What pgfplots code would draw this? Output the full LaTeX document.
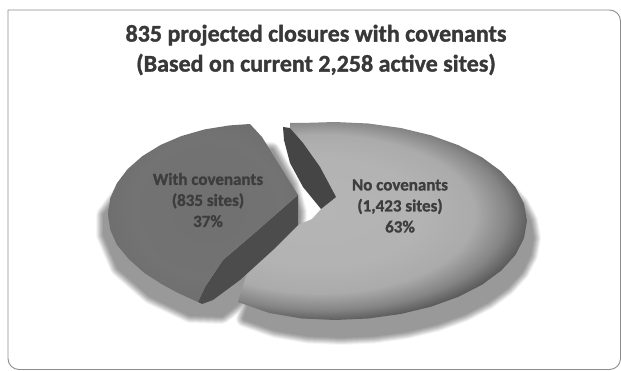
\documentclass[border=0pt]{standalone}
\usepackage{pgfplots}
\usepackage{pgfplotstable}
\usepackage{fontspec}
\setmainfont[BoldFeatures={FakeBold=1.3}]{Carlito}
\pgfplotsset{compat=1.18}
\usetikzlibrary{shadings}

\definecolor{frameline}{gray}{0.55}
\definecolor{titleink}{gray}{0.22}
\definecolor{labelink}{gray}{0.24}
\definecolor{cutface}{gray}{0.30}
\definecolor{sliver}{gray}{0.27}

% Top surface of each slice: the shading square is twice the path's box,
% so a stop at 25bp falls on the rim of the ellipse
\pgfdeclareradialshading{lightpie}{\pgfpoint{-3bp}{3bp}}{%
  color(0bp)=(black!29); color(14bp)=(black!30); color(20bp)=(black!33);
  color(24bp)=(black!48); color(27bp)=(black!66); color(29bp)=(black!86);
  color(50bp)=(black!90)}
\pgfdeclareradialshading{darkpie}{\pgfpoint{2bp}{2bp}}{%
  color(0bp)=(black!56); color(20bp)=(black!55); color(28bp)=(black!57);
  color(34bp)=(black!64); color(50bp)=(black!70)}

% Outline of the 1,423-site slice
\pgfplotstableread{
x y
290.0 123.0
301.7 123.0
335.0 122.0
368.3 123.5
400.7 128.0
431.0 135.3
458.4 145.2
482.0 157.3
501.3 171.5
515.4 187.1
524.0 203.8
527.0 221.0
524.0 238.2
515.4 254.9
501.3 270.5
482.0 284.7
458.4 296.8
431.0 306.7
400.7 314.0
368.3 318.5
335.0 320.0
301.7 318.5
269.3 313.0
238.0 302.0
247.0 273.0
298.0 225.0
312.0 219.0
321.0 209.0
336.0 197.0
320.0 167.0
303.0 143.0
290.0 128.0
}\lightslice

% The same outline with a zero-area spur to the far rim of the full ellipse,
% which centres the shading on the ellipse
\pgfplotstableread{
x y
290.0 123.0
301.7 123.0
335.0 122.0
368.3 123.5
400.7 128.0
431.0 135.3
458.4 145.2
482.0 157.3
501.3 171.5
515.4 187.1
524.0 203.8
527.0 221.0
524.0 238.2
515.4 254.9
501.3 270.5
482.0 284.7
458.4 296.8
431.0 306.7
400.7 314.0
368.3 318.5
335.0 320.0
301.7 318.5
269.3 313.0
238.0 302.0
247.0 273.0
143.0 221.0
247.0 273.0
298.0 225.0
312.0 219.0
321.0 209.0
336.0 197.0
320.0 167.0
303.0 143.0
290.0 128.0
}\lightsurface

% Outline of the 835-site slice, top surface
\pgfplotstableread{
x y
250.0 124.0
229.4 125.4
204.7 129.4
181.5 136.0
160.5 145.0
142.4 156.1
127.7 169.0
116.9 183.2
110.2 198.3
108.0 214.0
110.2 229.6
116.9 244.8
128.7 259.0
144.4 273.0
161.5 284.0
178.0 293.0
198.0 302.0
205.0 287.0
223.0 260.0
250.0 237.0
298.0 195.0
262.0 137.0
}\darkslice

% Cut face of the 835-site slice
\pgfplotstableread{
x y
298 195
298 225
273 250
240 280
213 300
202 304
198 302
205 287
223 260
250 237
}\cutside

% Exposed inner wall at the gap
\pgfplotstableread{
x y
283 127
290 128
303 143
320 167
336 197
321 209
303 187
290 163
284 140
}\sliverwall

% Ground shadow of the 835-site slice
\pgfplotstableread{
x y
272 150
292 185
299 212
298 240
262 285
222 316
190 315
150 296
118 268
104 235
104 215
130 180
200 150
}\darkshadow

\begin{document}
\begin{tikzpicture}
\begin{axis}[
  width=621pt, height=371pt, scale only axis,
  xmin=0, xmax=621, ymin=0, ymax=371, y dir=reverse,
  axis lines=none, clip=false,
  every axis plot/.append style={line join=round}
]
  \path (axis cs:0,0) rectangle (axis cs:621,371);

  % outer panel
  \addplot[frameline, line width=0.9pt, rounded corners=11pt] coordinates
    {(8,10) (620.5,10) (620.5,369.5) (8,369.5) (8,10)};

  % soft ground shadows: opaque outlines from wide and pale to narrow and dark
  \pgfplotsinvokeforeach{16/96,14/90,12/84,10/78,8/73,6/68,4/64,2/60}{
    \pgfplotsforeachungrouped \w/\g in {#1}{
      \edef\doshadow{\noexpand\addplot[draw=white!\g!black, fill=white!\g!black, line width=\w pt]
        table[x expr=\noexpand\thisrow{x}+6, y expr=\noexpand\thisrow{y}+17] {\noexpand\lightslice} -- cycle;
      \noexpand\addplot[draw=white!\g!black, fill=white!\g!black, line width=\w pt]
        table {\noexpand\darkshadow} -- cycle;}
      \doshadow
    }
  }

  % slices
  \addplot[draw=none, shade, shading=lightpie] table {\lightsurface} -- cycle;
  \addplot[draw=none, fill=sliver] table {\sliverwall} -- cycle;
  \addplot[draw=none, fill=cutface] table {\cutside} -- cycle;
  \addplot[draw=none, shade, shading=darkpie] table {\darkslice} -- cycle;

  % title and slice labels
  \node[align=center, font=\bfseries\fontsize{24}{30}\selectfont, text=titleink]
    at (axis cs:316,50) {835 projected closures with covenants\\(Based on current 2,258 active sites)};
  \node[align=center, font=\bfseries\fontsize{17}{21}\selectfont, text=labelink]
    at (axis cs:208,200) {With covenants\\(835 sites)\\37\%};
  \node[align=center, font=\bfseries\fontsize{17}{21}\selectfont, text=labelink]
    at (axis cs:400,206) {No covenants\\(1,423 sites)\\63\%};
\end{axis}
\end{tikzpicture}
\end{document}
